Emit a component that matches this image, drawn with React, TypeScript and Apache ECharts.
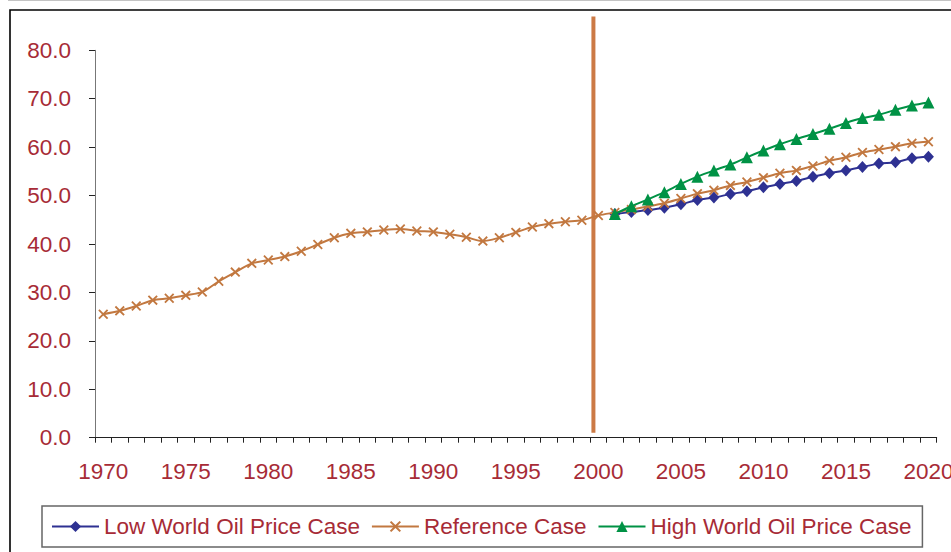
import React, { useEffect, useRef } from "react";
import * as echarts from "echarts";

const years: string[] = [
  "1970","1971","1972","1973","1974","1975","1976","1977","1978","1979",
  "1980","1981","1982","1983","1984","1985","1986","1987","1988","1989",
  "1990","1991","1992","1993","1994","1995","1996","1997","1998","1999",
  "2000","2001","2002","2003","2004","2005","2006","2007","2008","2009",
  "2010","2011","2012","2013","2014","2015","2016","2017","2018","2019","2020",
];

const referenceCase: number[] = [
  25.5, 26.2, 27.2, 28.4, 28.8, 29.4, 30.1, 32.3, 34.2, 36.0,
  36.7, 37.4, 38.5, 39.9, 41.3, 42.2, 42.5, 42.9, 43.1, 42.7,
  42.5, 42.0, 41.4, 40.6, 41.3, 42.4, 43.5, 44.2, 44.6, 44.9,
  45.9, 46.5, 47.1, 47.8, 48.4, 49.4, 50.4, 51.1, 52.1, 52.8,
  53.7, 54.6, 55.2, 56.1, 57.2, 57.9, 58.9, 59.5, 60.1, 60.8, 61.1,
];

const projectionStart = "2001";
const lowCase: number[] = [
  46.2, 46.6, 47.0, 47.5, 48.2, 49.1, 49.6, 50.3, 50.9, 51.7,
  52.4, 53.0, 53.9, 54.6, 55.2, 55.9, 56.6, 56.9, 57.7, 58.0,
];
const highCase: number[] = [
  46.2, 47.8, 49.2, 50.7, 52.4, 53.9, 55.2, 56.4, 57.9, 59.3,
  60.6, 61.7, 62.7, 63.8, 65.0, 66.0, 66.7, 67.7, 68.6, 69.2,
];

// vertical divider (history / projection) on a hidden continuous year axis
const dividerYear = 1999.7;
const dividerRange: number[] = [1.0, 87.0];

const yTicks = { min: 0, max: 80, interval: 10 };

const TEXT_RED = "#A72B36";
const FONT = "'Liberation Sans', Arial, sans-serif";
const FS = 22.5;

const CROSS =
  "path://M0,1.3 L1.3,0 L5,3.7 L8.7,0 L10,1.3 L6.3,5 L10,8.7 L8.7,10 L5,6.3 L1.3,10 L0,8.7 L3.7,5 Z";

function padProjection(values: number[]): (number | null)[] {
  const start = years.indexOf(projectionStart);
  return years.map((_, i) => (i < start ? null : values[i - start]));
}

export default function App() {
  const ref = useRef<HTMLDivElement>(null);

  useEffect(() => {
    document.body.style.margin = "0";
    if (!ref.current) return;
    const chart = echarts.init(ref.current, undefined, { renderer: "svg" });
    const option: any = {
      animation: false,
      backgroundColor: "#ffffff",
      graphic: [
        {
          type: "line",
          shape: { x1: 8, y1: 0.5, x2: 951, y2: 0.5 },
          style: { stroke: "#c4c4c4", lineWidth: 1 },
          silent: true,
          z: -10,
        },
        {
          type: "rect",
          shape: { x: 10, y: 10, width: 1000, height: 1000 },
          style: { fill: "none", stroke: "#000", lineWidth: 1.6 },
          silent: true,
          z: -10,
        },
      ],
      grid: {
        left: 95,
        right: 14.3,
        top: 50.3,
        bottom: 114.3,
        containLabel: false,
        outerBoundsMode: "none",
      },
      legend: {
        data: ["Low World Oil Price Case", "Reference Case", "High World Oil Price Case"],
        left: 42,
        top: 506,
        orient: "horizontal",
        padding: [9, 11, 9, 9],
        itemGap: 11,
        itemWidth: 47,
        itemHeight: 14,
        borderColor: "#666",
        borderWidth: 1.5,
        textStyle: { color: TEXT_RED, fontSize: FS, fontFamily: FONT },
      },
      xAxis: [
        {
          type: "category",
          data: years,
          boundaryGap: true,
          axisLine: { lineStyle: { color: "#222", width: 1 } },
          axisTick: { show: true, interval: 0, length: 5, lineStyle: { color: "#222" } },
          axisLabel: {
            interval: 4,
            color: TEXT_RED,
            fontSize: FS,
            fontFamily: FONT,
            margin: 22,
          },
          splitLine: { show: false },
        },
        {
          type: "value",
          min: 1969.5,
          max: 2020.5,
          show: false,
          splitLine: { show: false },
        },
      ],
      yAxis: {
        type: "value",
        min: yTicks.min,
        max: yTicks.max,
        interval: yTicks.interval,
        axisLine: { show: true, lineStyle: { color: "#777", width: 1 } },
        axisTick: { show: true, length: 6, lineStyle: { color: "#222" } },
        axisLabel: {
          color: TEXT_RED,
          fontSize: FS,
          fontFamily: FONT,
          margin: 24,
          formatter: (v: number) => v.toFixed(1),
        },
        splitLine: { show: false },
      },
      series: [
        {
          name: "divider",
          type: "line",
          xAxisIndex: 1,
          data: [
            [dividerYear, dividerRange[0]],
            [dividerYear, dividerRange[1]],
          ],
          symbol: "none",
          clip: false,
          silent: true,
          lineStyle: { color: "#CC7A45", width: 4 },
          z: 1,
        },
        {
          name: "Low World Oil Price Case",
          type: "line",
          data: padProjection(lowCase),
          smooth: 0.3,
          symbol: "diamond",
          symbolSize: [11, 12],
          showAllSymbol: true,
          itemStyle: { color: "#2E3192" },
          lineStyle: { color: "#2E3192", width: 2 },
          z: 3,
        },
        {
          name: "Reference Case",
          type: "line",
          data: referenceCase,
          smooth: 0.3,
          symbol: CROSS,
          symbolSize: [10, 10],
          showAllSymbol: true,
          itemStyle: { color: "#C27840" },
          lineStyle: { color: "#C27840", width: 2 },
          z: 4,
        },
        {
          name: "High World Oil Price Case",
          type: "line",
          data: padProjection(highCase),
          smooth: 0.3,
          symbol: "triangle",
          symbolSize: [12, 12],
          showAllSymbol: true,
          itemStyle: { color: "#009245" },
          lineStyle: { color: "#009245", width: 2 },
          z: 5,
        },
      ],
    };
    chart.setOption(option);
    return () => chart.dispose();
  }, []);

  return (
    <div
      ref={ref}
      style={{ width: 951, height: 552, position: "absolute", left: 0, top: 0, overflow: "hidden" }}
    />
  );
}
